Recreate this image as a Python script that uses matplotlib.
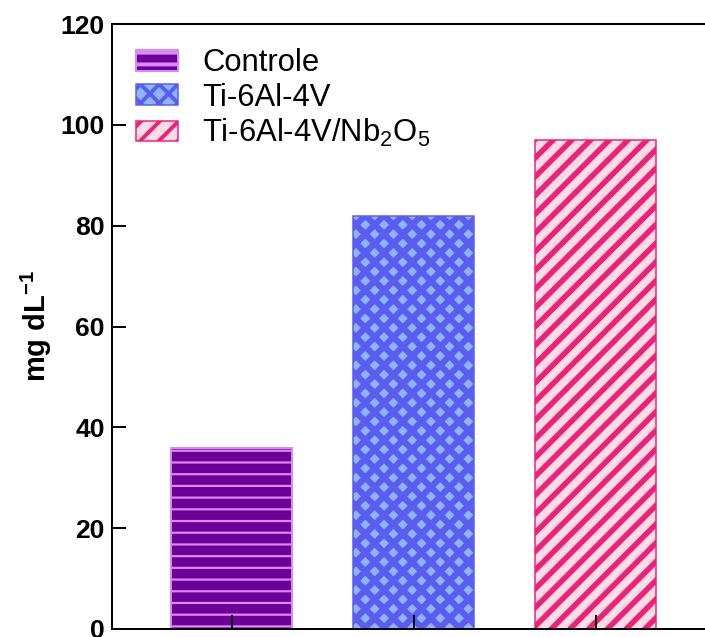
import matplotlib
matplotlib.use("Agg")
import matplotlib.pyplot as plt

# Render resolution; hatch spacing is tied to it (one hatch tile = 1 inch)
DPI = 281
W, H = 705, 637


def pt(px):
    """Convert a pixel size at DPI into points."""
    return px * 72.0 / DPI


categories = ["Controle", "Ti-6Al-4V", "Ti-6Al-4V/Nb$_2$O$_5$"]
values = [36, 82, 97]
yticks = [0, 20, 40, 60, 80, 100, 120]
ytick_labels = ["0", "20", "40", "60", "80", "100", "120"]

face_colors = ["#6c0096", "#8db5fa", "#fcdde4"]
hatch_colors = ["#da88fa", "#5b5df2", "#ee2079"]
hatches = ["----", "xxxxx", "/////"]
hatch_widths_px = [2.2, 6.2, 5.5]
edge_widths_px = [2.0, 1.5, 1.5]

plt.rcParams["font.family"] = ["Liberation Sans", "DejaVu Sans"]
plt.rcParams["mathtext.fontset"] = "custom"
plt.rcParams["mathtext.rm"] = "Liberation Sans"
plt.rcParams["mathtext.it"] = "Liberation Sans:italic"
plt.rcParams["mathtext.bf"] = "Liberation Sans:bold"

fig = plt.figure(figsize=(W / DPI, H / DPI), dpi=DPI)
ax = fig.add_axes([112 / W, 8 / H, 1 - 112 / W, 605 / H])

positions = list(range(len(categories)))
for i, (cat, val) in enumerate(zip(categories, values)):
    with plt.rc_context({"hatch.linewidth": pt(hatch_widths_px[i])}):
        bars = ax.bar(positions[i], val, width=0.665,
                      color=face_colors[i], edgecolor=hatch_colors[i],
                      hatch=hatches[i], linewidth=pt(edge_widths_px[i]),
                      label=cat, zorder=1)
    for b in bars:
        if hasattr(b, "set_hatch_linewidth"):
            b.set_hatch_linewidth(pt(hatch_widths_px[i]))

ax.set_xlim(-0.659, 2.599)
ax.set_ylim(0, 120)
ax.set_xticks(positions)
ax.set_yticks(yticks, labels=ytick_labels, fontweight="bold")

ax.tick_params(axis="y", direction="in", length=pt(14), width=pt(2),
               pad=pt(7), labelsize=pt(26.5), colors="black")
ax.tick_params(axis="x", direction="in", length=pt(14), width=pt(2),
               labelbottom=False)

for side in ["left", "bottom", "top"]:
    ax.spines[side].set_linewidth(pt(2))
    ax.spines[side].set_color("black")
ax.spines["right"].set_visible(False)

ax.set_ylabel(r"mg dL$^{\mathbf{-1}}$", fontsize=pt(29), fontweight="bold",
              labelpad=pt(7))

ax.legend(loc="upper left", bbox_to_anchor=(0.0405, 0.96), frameon=False,
          fontsize=pt(31), handlelength=1.36, handleheight=0.65,
          handletextpad=0.78, labelspacing=0.14, borderpad=0.0,
          borderaxespad=0.0)

fig.savefig("out.png", dpi=DPI)
